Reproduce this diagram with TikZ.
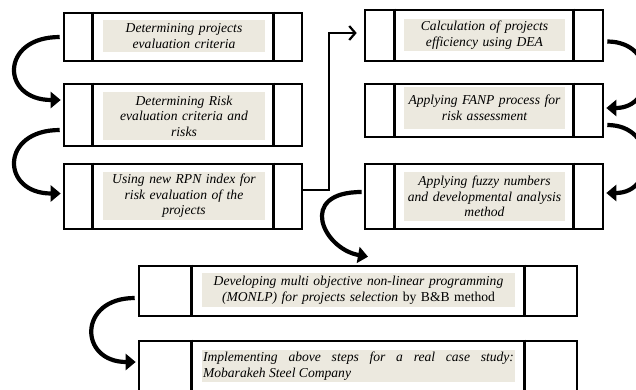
\documentclass[tikz,border=0pt]{standalone}
\usepackage{fontspec}
\setmainfont{Liberation Serif}
\usetikzlibrary{arrows.meta}
\definecolor{txtbg}{RGB}{236,233,223}
\hyphenpenalty=10000
\exhyphenpenalty=10000
\newcommand\mydiv[2]{%
  \draw[divider] ([xshift=#2]#1.north west) -- ([xshift=#2]#1.south west);
  \draw[divider] ([xshift=-#2]#1.north east) -- ([xshift=-#2]#1.south east);}
\begin{document}
\begin{tikzpicture}[x=1pt,y=-1pt,
  stepbox/.style={draw, line width=2.6pt, inner sep=0pt},
  divider/.style={line width=2.6pt},
  txt/.style={fill=txtbg, inner sep=1pt, align=center,
    font=\itshape\fontsize{13.6}{15.5}\selectfont},
  curvy/.style={line width=4.2pt, -{Triangle[length=10pt,width=16pt]}},
  link/.style={line width=2.2pt, -{Straight Barb[length=6pt,width=14pt]}}]
\clip (0,0) rectangle (636,389);
\fill[white] (0,0) rectangle (636,389);
% left column
\node[stepbox, minimum width=238pt, minimum height=48pt] (b1) at (183,37) {};
\node[stepbox, minimum width=238pt, minimum height=62pt] (b2) at (183,115) {};
\node[stepbox, minimum width=238pt, minimum height=65pt] (b3) at (183,196.5) {};
\mydiv{b1}{30pt}\mydiv{b2}{30pt}\mydiv{b3}{30pt}
% right column
\node[stepbox, minimum width=238pt, minimum height=51pt] (bA) at (484,35.5) {};
\node[stepbox, minimum width=238pt, minimum height=53pt] (bB) at (484,110.5) {};
\node[stepbox, minimum width=238pt, minimum height=65pt] (bC) at (484,196.5) {};
\mydiv{bA}{31pt}\mydiv{bB}{31pt}\mydiv{bC}{31pt}
% bottom
\node[stepbox, minimum width=438pt, minimum height=50pt] (bD) at (358,291) {};
\node[stepbox, minimum width=438pt, minimum height=54pt] (bE) at (358,368) {};
\mydiv{bD}{54pt}\mydiv{bE}{54pt}
% texts
\node[txt, text width=160pt, minimum height=32pt] (t1) at (184,36) {Determining projects\\evaluation criteria};
\node[txt, text width=160pt, minimum height=48pt] (t2) at (184,116) {Determining Risk\\evaluation criteria and\\risks};
\node[txt, text width=160pt, minimum height=48pt] (t3) at (184,196) {Using new RPN index for\\risk evaluation of the\\projects};
\node[txt, text width=159pt, minimum height=32pt] (tA) at (484.5,35) {Calculation of projects\\efficiency using DEA};
\node[txt, text width=159pt, minimum height=42pt] (tB) at (484.5,108) {Applying FANP process for\\risk assessment};
\node[txt, text width=159pt, minimum height=49pt] (tC) at (484.5,196.5) {Applying fuzzy numbers\\\mbox{and developmental analysis}\\method};
\node[txt, text width=311pt, minimum height=34pt] (tD) at (358.5,290) {Developing multi objective non-linear programming\\(MONLP) for projects selection {\upshape by B\&B method}};
\node[txt, text width=311pt, minimum height=32pt, align=justify] (tE) at (358.5,366) {Implementing above steps for a real case study:\linebreak Mobarakeh Steel Company};
% connectors
\draw[curvy] ([xshift=-3pt]b1.west) .. controls +(-60,0) and +(-60,0) .. ([xshift=-2pt,yshift=15pt]b2.west);
\draw[curvy] ([xshift=-3pt,yshift=-15pt]b2.west) .. controls +(-60,0) and +(-60,0) .. ([xshift=-2pt,yshift=3pt]b3.west);
\draw[curvy] ([xshift=3pt,yshift=-6pt]bA.east) .. controls +(50,0) and +(50,0) .. ([xshift=2pt,yshift=2.5pt]bB.east);
\draw[curvy] ([xshift=3pt,yshift=-14.5pt]bB.east) .. controls +(50,0) and +(50,0) .. ([xshift=2pt,yshift=3.5pt]bC.east);
\draw[curvy] ([xshift=-2pt,yshift=4.5pt]bC.west) .. controls +(-65,0) and +(-45,-8) .. ([xshift=10pt,yshift=8pt]bD.north);
\draw[curvy] ([xshift=-3pt,yshift=-7pt]bD.west) .. controls +(-57,0) and +(-57,0) .. ([xshift=-2pt,yshift=6pt]bE.west);
\draw[link] ([yshift=6.5pt]b3.east) -- ++(26,0) |- ([xshift=-7pt,yshift=2.5pt]bA.west);
\end{tikzpicture}
\end{document}
